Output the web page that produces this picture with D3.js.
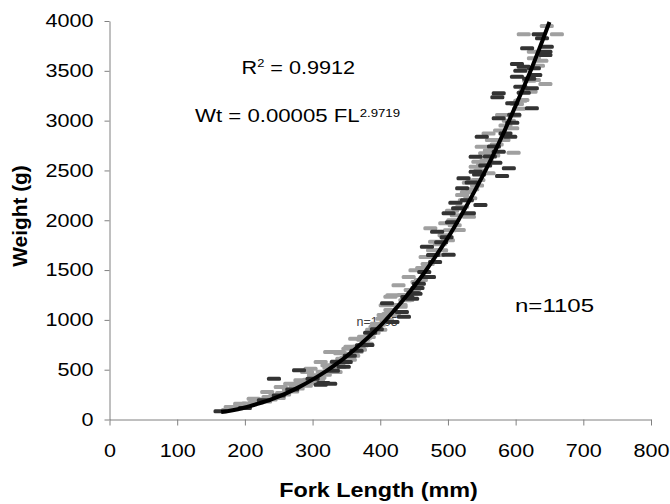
<!DOCTYPE html>
<html>
<head>
<meta charset="utf-8">
<script src="https://cdn.jsdelivr.net/npm/d3@7"></script>
<style>
  body { margin: 0; background: #fff; }
  text { font-family: "Liberation Sans", Arial, sans-serif; fill: #000; }
</style>
</head>
<body>
<svg id="chart" width="670" height="504"></svg>
<script>
// axis ticks
var xTicks = [0, 100, 200, 300, 400, 500, 600, 700, 800];
var yTicks = [0, 500, 1000, 1500, 2000, 2500, 3000, 3500, 4000];

// fitted curve (fork length mm, weight g)
var curveFL = [165, 180, 200, 220, 240, 260, 280, 300, 320, 340, 360, 380, 400, 420, 440, 460, 480, 500, 520, 540, 560, 580, 600, 620, 640, 650];
var curveW  = [75, 90, 120, 160, 205, 260, 325, 400, 485, 580, 690, 810, 940, 1090, 1250, 1425, 1620, 1825, 2055, 2300, 2560, 2845, 3150, 3465, 3810, 3990];

// light grey series [FL, Wt]
var lightPts = [
  [179,125],[185,125],[193,159],[195,140],[205,160],[213,209],[215,175],[225,200],[230,180],[233,276],
  [235,225],[245,240],[250,215],[253,326],[255,265],[265,300],[267,359],[270,280],[275,330],[282,393],
  [285,360],[290,340],[292,477],[295,400],[297,510],[300,370],[302,444],[305,440],[310,420],[312,577],
  [315,480],[322,544],[325,520],[326,678],[330,500],[334,477],[335,560],[339,678],[340,530],[341,664],
  [344,610],[350,620],[353,711],[355,600],[356,731],[360,640],[363,811],[365,680],[370,700],[375,800],
  [376,831],[380,760],[383,828],[390,898],[390,870],[393,928],[395,960],[400,900],[403,1012],[408,1146],
  [410,1000],[415,1233],[415,1100],[418,1247],[420,1050],[427,1347],[430,1132],[430,1150],[437,1196],[440,1200],
  [442,1430],[450,1300],[452,1497],[460,1400],[467,1631],[474,1919],[481,1785],[485,1650],[490,1700],[496,1969],
  [500,1800],[506,2096],[510,1950],[516,1902],[521,2136],[521,2254],[531,2036],[531,2377],[536,2311],[541,2538],
  [545,2404],[545,2588],[550,2738],[555,2672],[560,2471],[560,2872],[565,2805],[580,3056],[582,2805],[595,2923],
  [597,2678],[600,3174],[602,3167],[607,3200],[610,3207],[622,3290],[627,3408],[627,3626],[627,3692],[644,3367],
  [612,3866],[661,3866],[646,3950],
  [455,1380],[462,1520],[470,1560],[478,1700],[488,1760],[495,1850],[503,1900],[508,2000],[513,2050],[518,2120],
  [525,2200],[528,2280],[533,2220],[538,2400],[543,2350],[548,2500],[552,2560],[557,2600],[562,2700],[567,2650],
  [572,2760],[577,2900],[585,2950],[590,3000],[598,3050],[605,3120],[615,3300],[620,3400],[633,3550],[638,3600],
  [445,1300],[435,1250],[425,1150],[412,1060],[405,1050],[398,950],[388,900],[378,820],[368,730],[358,660],
  [348,600],[338,560],[328,480],[318,450],[308,400],[298,380],[288,350],[278,310],[268,290],[258,250],
  [248,230],[238,200],[228,185],[218,170],[208,150],[198,130],[188,110],[175,95]
];

// dark grey series [FL, Wt]
var darkPts = [
  [164,82],[228,193],[243,410],[280,494],[312,349],[316,366],[326,359],[336,580],[346,530],[349,577],
  [373,745],[381,748],[410,1166],[418,979],[432,1079],[435,1032],[447,1213],[449,1267],[452,1263],[457,1363],
  [472,1430],[481,1581],[501,1654],[469,1734],[484,1885],[501,2070],[531,2070],[511,2176],[548,2153],[521,2321],
  [523,2421],[580,2444],[541,2488],[590,2521],[570,2578],[541,2638],[575,2688],[592,2839],[550,2839],[595,2979],
  [575,3023],[624,3124],[595,3174],[573,3234],[575,3274],[607,3340],[624,3324],[629,3458],[602,3441],[607,3501],
  [627,3525],[612,3541],[602,3568],[644,3659],[644,3692],[646,3742],[617,3726],[639,3826],[634,3866],
  [440,1230],[455,1320],[465,1480],[478,1650],[490,1780],[498,1830],[506,1980],[515,2120],[528,2200],[535,2380],
  [546,2460],[555,2550],[562,2640],[568,2740],[585,2870],[598,3060],[612,3280],[620,3420],[395,905],[385,870],
  [365,690],[355,640],[330,490],[300,410],[270,300],[250,240],[200,115]
];

var svg = d3.select("#chart");

var x = d3.scaleLinear().domain([0, 800]).range([109.5, 651]);
var y = d3.scaleLinear().domain([0, 4000]).range([419.5, 21]);

// small label that sits behind the points
svg.append("text")
    .attr("x", 356.5)
    .attr("y", 326)
    .style("font-size", "12.5px")
    .style("fill", "#404040")
    .text("n=1105");

// scatter markers: short horizontal dashes
function dashes(pts, colour) {
    svg.append("g")
        .selectAll("rect")
        .data(pts)
        .enter().append("rect")
        .attr("x", (d) => { return x(d[0]) - 7; })
        .attr("y", (d) => { return y(d[1]) - 2; })
        .attr("width", 14)
        .attr("height", 4)
        .attr("rx", 1.5)
        .style("fill", colour);
}
dashes(lightPts, "#a0a0a0");
dashes(darkPts, "#333333");

// trend line
var line = d3.line()
    .x((d, i) => { return x(curveFL[i]); })
    .y((d, i) => { return y(curveW[i]); })
    .curve(d3.curveMonotoneX);
svg.append("path")
    .datum(curveFL)
    .attr("d", line)
    .style("fill", "none")
    .style("stroke", "#000")
    .style("stroke-width", 4);

// axes
var xAxis = svg.append("g")
    .attr("transform", "translate(0," + y(0) + ")")
    .call(d3.axisBottom(x).tickValues(xTicks).tickFormat(d3.format("d"))
        .tickSize(6).tickPadding(19).tickSizeOuter(0));
var yAxis = svg.append("g")
    .attr("transform", "translate(" + x(0) + ",0)")
    .call(d3.axisLeft(y).tickValues(yTicks).tickFormat(d3.format("d"))
        .tickSize(5).tickSizeOuter(0));

[xAxis, yAxis].forEach((a) => {
    a.select(".domain").style("stroke", "#808080");
    a.selectAll(".tick line").style("stroke", "#808080");
    a.selectAll(".tick text")
        .style("font-family", "'Liberation Sans', Arial, sans-serif")
        .style("font-size", "18px")
        .style("fill", "#000");
});
xAxis.selectAll(".tick text").attr("transform", "scale(1.2,1)");
yAxis.selectAll(".tick text").attr("x", -16 / 1.2).attr("transform", "scale(1.2,1)");

// stretched text helper
function stretched(tx, ty, sx, rot) {
    return svg.append("g")
        .attr("transform", "translate(" + tx + "," + ty + ")" + (rot ? " rotate(" + rot + ")" : "") + " scale(" + sx + ",1)")
        .append("text");
}

// axis titles
stretched(378.5, 496.5, 1.2)
    .attr("text-anchor", "middle")
    .style("font-size", "19.5px")
    .style("font-weight", "bold")
    .text("Fork Length (mm)");

stretched(27, 216, 1.07, -90)
    .attr("text-anchor", "middle")
    .style("font-size", "19.5px")
    .style("font-weight", "bold")
    .text("Weight (g)");

// annotations
var r2 = stretched(241.5, 74, 1.17).style("font-size", "18.5px");
r2.append("tspan").text("R");
r2.append("tspan").attr("dy", -7).style("font-size", "11px").text("2");
r2.append("tspan").attr("dy", 7).text(" = 0.9912");

var eq = stretched(195, 121.5, 1.2).style("font-size", "18.5px");
eq.append("tspan").text("Wt = 0.00005 FL");
eq.append("tspan").attr("dy", -5).style("font-size", "11px").text("2.9719");

stretched(515, 311.5, 1.3)
    .style("font-size", "18.5px")
    .text("n=1105");
</script>
</body>
</html>
